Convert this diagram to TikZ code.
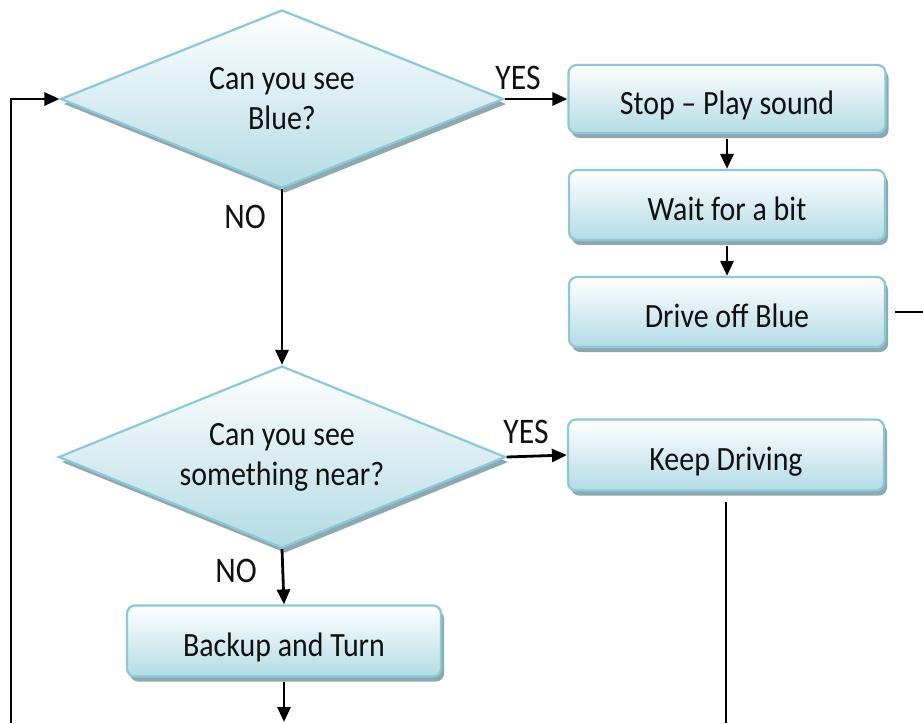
\documentclass[tikz,border=0pt]{standalone}
\usepackage{fontspec}
\setmainfont{Carlito}[FakeStretch=0.88]
\usetikzlibrary{shapes.geometric,shadows,arrows.meta}
\definecolor{edgeblue}{HTML}{8CC8DA}
\definecolor{fillblue}{HTML}{B3DBE5}
\definecolor{shadowc}{HTML}{8EA8AE}
\definecolor{inkc}{HTML}{111111}
\begin{document}
\begin{tikzpicture}[x=1pt,y=-1pt,
  font=\fontsize{34}{40}\selectfont,
  every node/.style={text=inkc},
  myshadow/.style={drop shadow={shadow xshift=3pt,shadow yshift=-5pt,fill=shadowc,opacity=1}},
  procbox/.style={rectangle,rounded corners=8pt,draw=edgeblue,line width=2.2pt,
    top color=white,bottom color=fillblue,minimum width=316pt,minimum height=70pt,
    inner sep=0pt,text height=31pt,text depth=0pt,myshadow},
  decision/.style={diamond,draw=edgeblue,line width=2.2pt,top color=white,bottom color=fillblue,
    inner sep=0pt,aspect=2.5,align=center,myshadow},
  arr/.style={-{Triangle[length=15pt,width=13pt]},line width=2.8pt,draw=black},
  plain/.style={line width=2.8pt,draw=black},
  lbl/.style={font=\fontsize{36}{40}\selectfont}]
\useasboundingbox (0,0) rectangle (923,723);

\node[decision,minimum width=443pt,minimum height=178pt] (d1) at (282,99) {Can you see\\Blue?};
\node[decision,minimum width=447pt,minimum height=182pt] (d2) at (282,457) {Can you see\\something near?};

\node[procbox,minimum width=317pt,minimum height=68pt] (stop) at (727,99) {Stop -- Play sound};
\node[procbox] (wait) at (727,205) {Wait for a bit};
\node[procbox] (drive) at (727,312) {Drive off Blue};
\node[procbox,minimum height=71pt] (keep) at (726,455) {Keep Driving};
\node[procbox,minimum width=314pt,minimum height=71pt] (backup) at (284,641) {Backup and Turn};

\node[lbl] (y1) at (518,78) {YES};
\node[lbl] (n1) at (245,217) {NO};
\node[lbl] (y2) at (526,432) {YES};
\node[lbl] (n2) at (236,571) {NO};

\coordinate (e1) at (923,312);
\coordinate (e2) at (284,722);
\coordinate (e3) at (726,723);
\coordinate (e4) at (11,723);

\draw[arr] (d1.east) -- (stop.west);
\draw[arr] (d1.south) -- (d2.north);
\draw[arr] (stop.south) ++(0,5) -- (wait.north);
\draw[arr] (wait.south) ++(0,5) -- (drive.north);
\draw[plain,shorten <=9pt] (drive.east) -- (e1);
\draw[arr] (d2.east) -- (keep.west);
\draw[arr] (d2.south) -- (backup.north);
\draw[arr,shorten <=4pt] (backup.south) -- (e2);
\draw[line width=2.4pt,shorten <=10pt] (keep.south) -- (e3);
\draw[arr] (e4) |- (d1.west);
\end{tikzpicture}
\end{document}
